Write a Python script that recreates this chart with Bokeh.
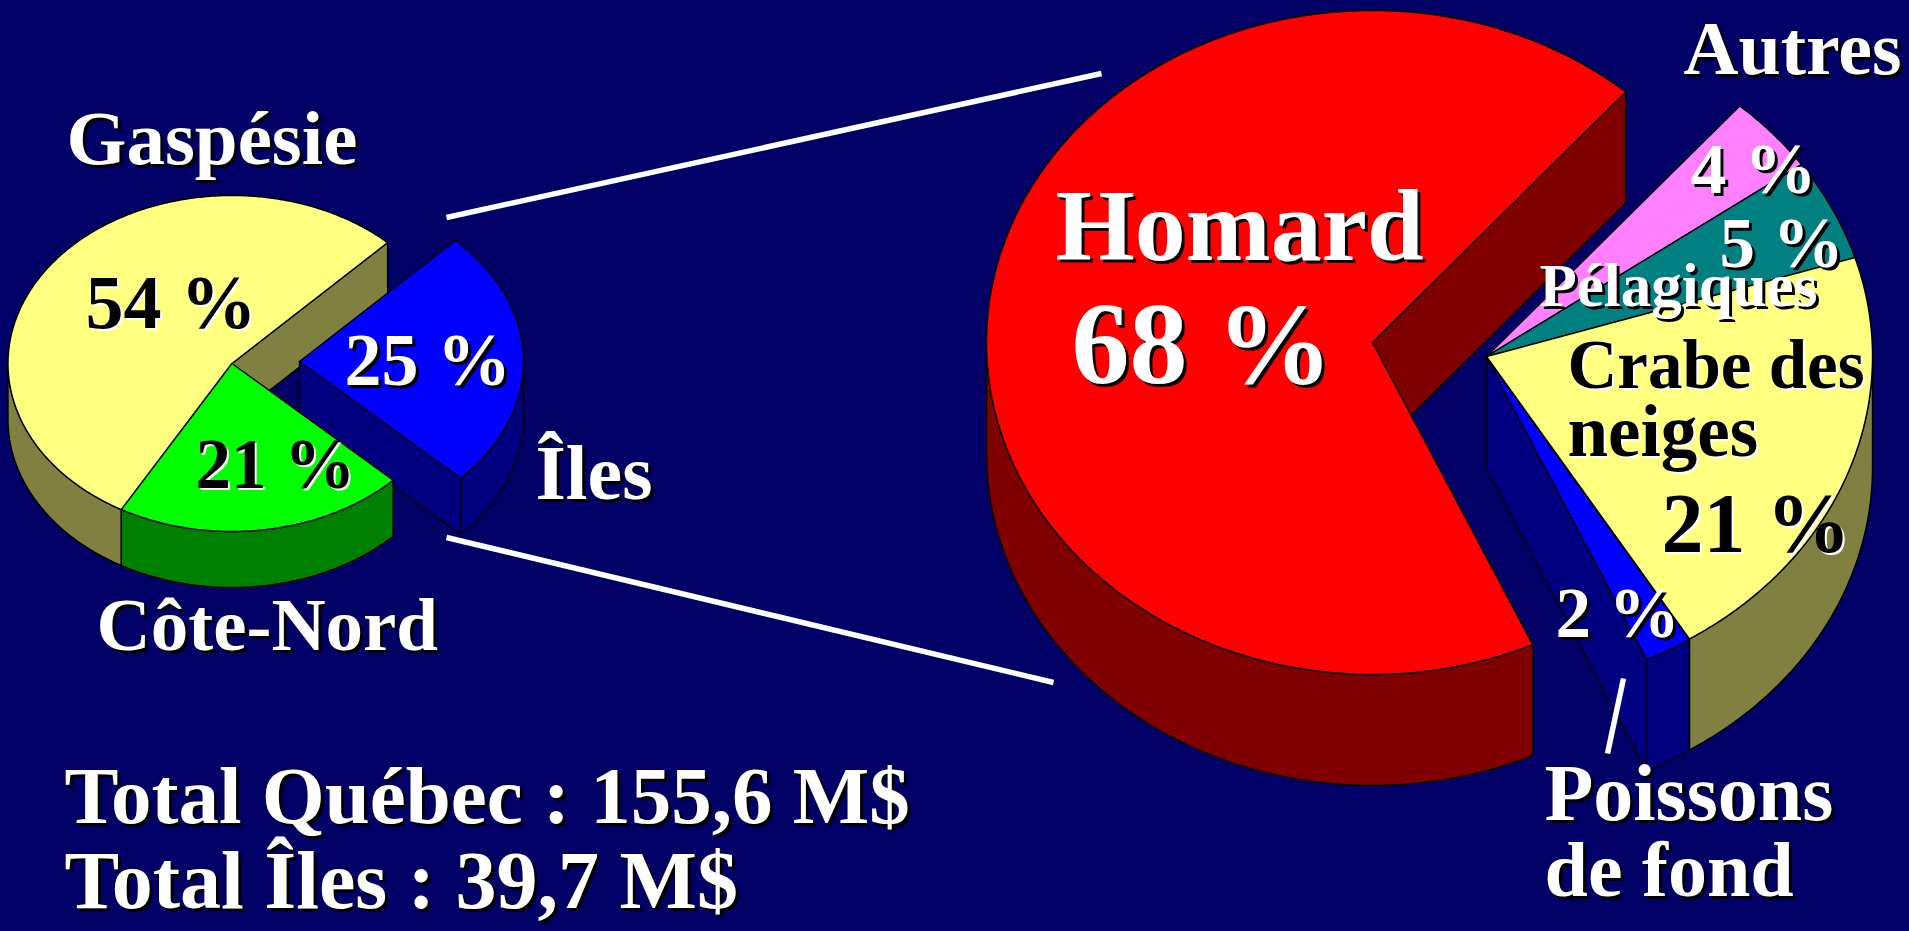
import math
from bokeh.plotting import figure
from bokeh.models import Range1d
from bokeh.core.properties import value
from bokeh.embed import file_html
from bokeh.resources import INLINE

# ---- data ----
region_names = ["Gaspésie", "Côte-Nord", "Îles"]
region_shares = [54, 21, 25]
species_names = ["Homard", "Poissons de fond", "Crabe des neiges", "Pélagiques", "Autres"]
species_shares = [68.2, 2.0, 21.0, 5.0, 3.8]
total_quebec = "Total Québec : 155,6 M$"
total_iles = "Total Îles : 39,7 M$"

# ---- style and layout ----
W, H = 1909, 931
BG = "#000066"
FONT = "Liberation Serif"
BASELINE_SHIFT = 0.365
region_style = {"Gaspésie": ("#FFFF80", "#808040"), "Côte-Nord": ("#00FF00", "#008000"), "Îles": ("#0000FF", "#000080")}
species_style = {"Homard": ("#FF0000", "#800000"), "Poissons de fond": ("#0000FF", "#000080"),
                 "Crabe des neiges": ("#FFFF80", "#808040"), "Pélagiques": ("#008080", "#004040"),
                 "Autres": ("#FF80FF", "#804080")}

left_pie = dict(cx=231.5, cy=363, rx=224, ry=168, depth=56, start=46.0)
right_pie = dict(cx=1372, cy=342, rx=386, ry=332, depth=111, start=49.0)
region_centres = {"Îles": (299, 361)}
species_centres = {"Poissons de fond": (1486, 357), "Crabe des neiges": (1486, 356),
                   "Pélagiques": (1486, 356), "Autres": (1486, 356)}
region_order = ["Gaspésie", "Îles", "Côte-Nord"]
species_order = ["Homard", "Autres", "Pélagiques", "Crabe des neiges", "Poissons de fond"]

p = figure(width=W, height=H, x_range=Range1d(0, W), y_range=Range1d(H, 0),
           output_backend="svg", toolbar_location=None, min_border=0,
           background_fill_color=BG, border_fill_color=BG, outline_line_color=None)
p.axis.visible = False
p.grid.visible = False


def pt(c, pie, a, d=0):
    r = math.radians(a)
    return c[0] + pie["rx"] * math.cos(r), c[1] - pie["ry"] * math.sin(r) + d


def arc(c, pie, a, b, d=0):
    n = max(2, int(abs(b - a) * 2))
    return [pt(c, pie, a + (b - a) * i / n, d) for i in range(n + 1)]


def poly(points, color):
    p.patch([q[0] for q in points], [q[1] for q in points], fill_color=color,
            line_color="black", line_width=1.4, line_join="round")


def draw_pie(names, shares, style, centres, order, pie):
    spans, a = {}, pie["start"]
    for n, s in zip(names, shares):
        spans[n] = (a, a + s * 3.6)
        a += s * 3.6
    for n in order:
        a, b = spans[n]
        c = centres.get(n, (pie["cx"], pie["cy"]))
        top, dark = style[n]
        d = pie["depth"]
        # flat cut faces turned towards the viewer
        if math.cos(math.radians(a)) > 0:
            poly([c, pt(c, pie, a), pt(c, pie, a, d), (c[0], c[1] + d)], dark)
        if math.cos(math.radians(b)) < 0:
            poly([c, pt(c, pie, b), pt(c, pie, b, d), (c[0], c[1] + d)], dark)
        # rim, only on the front half of the ellipse
        for lo, hi in ((180, 360), (540, 720)):
            u, v = max(a, lo), min(b, hi)
            if v > u:
                poly(arc(c, pie, u, v) + arc(c, pie, v, u, d), dark)
        poly([c] + arc(c, pie, a, b), top)


draw_pie(region_names, region_shares, region_style, region_centres, region_order, left_pie)
draw_pie(species_names, species_shares, species_style, species_centres, species_order, right_pie)

# connector lines
for xs, ys in (([446, 1101], [217, 73]), ([446, 1053], [537, 682]), ([1623, 1607], [678, 753])):
    p.line(xs, ys, line_color="white", line_width=5.5)


def label(txt, x, y, size, color="white", shadow="black", off=3):
    y = y - BASELINE_SHIFT * size
    for dx, col in ((off, shadow), (0, color)):
        p.text([x + dx], [y + dx], text=[txt], text_color=col, text_font=value(FONT),
               text_font_style="bold", text_font_size=f"{size}px",
               text_align="left", text_baseline="alphabetic")


def pct(v):
    return f"{round(v)} %"


label(region_names[0], 66, 166, 77)
label(region_names[2], 535, 500, 78)
label(region_names[1], 96, 651, 75)
label(pct(region_shares[0]), 85, 329, 76, "black", "white", 2)
label(pct(region_shares[2]), 344, 387, 74)
label(pct(region_shares[1]), 195, 489, 71, "black", "white", 2)

label("Homard", 1055, 262, 102)
label(pct(species_shares[0]), 1071, 386, 116)
label("Autres", 1683, 75, 76)
label(pct(species_shares[4]), 1690, 195, 72)
label(pct(species_shares[3]), 1719, 268, 71)
label("Pélagiques", 1539, 307, 61)
label("Crabe des", 1567, 390, 69, "black", "white", 2)
label("neiges", 1567, 458, 73, "black", "white", 2)
label(pct(species_shares[2]), 1661, 554, 84, "black", "white", 2)
label(pct(species_shares[1]), 1555, 638, 71)
label("Poissons", 1544, 822, 80)
label("de fond", 1544, 897, 78)
label(total_quebec, 64, 825, 81)
label(total_iles, 64, 910, 82)

html = file_html(p, INLINE)
html = html.replace("<head>", f"<head><style>html,body{{margin:0;padding:0;background:{BG};overflow:hidden}}</style>", 1)
open("out.html", "w").write(html)
